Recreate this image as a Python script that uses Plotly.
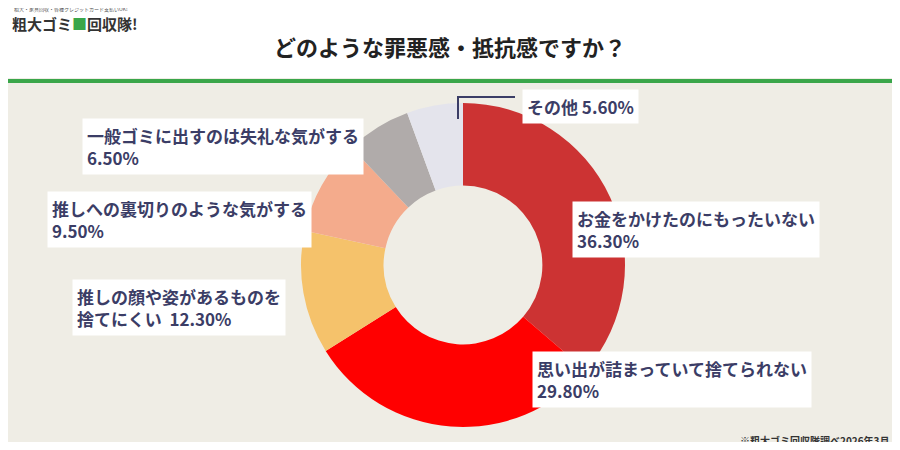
import plotly.graph_objects as go

labels = ["お金をかけたのにもったいない", "思い出が詰まっていて捨てられない",
          "推しの顔や姿があるものを捨てにくい", "推しへの裏切りのような気がする",
          "一般ゴミに出すのは失礼な気がする", "その他"]
values = [36.3, 29.8, 12.3, 9.5, 6.5, 5.6]
colors = ["#cc3333", "#ff0000", "#f5c26b", "#f4ab8c", "#b0abaa", "#e4e4ec"]

FONT = "Noto Sans CJK JP"
NAVY = "#3b3d66"

# page has an 8px body margin, so the figure is 884x434 placed at (8, 8)
W, H, OFF = 884, 434, 8


def fx(x):
    return (x - OFF) / W


def fy(y):
    return 1 - (y - OFF) / H


fig = go.Figure(go.Pie(
    labels=labels, values=values, hole=0.49, sort=False, direction="clockwise",
    rotation=0, marker=dict(colors=colors, line=dict(width=0)),
    textinfo="none", showlegend=False,
    domain=dict(x=[fx(301), fx(625)], y=[fy(427), fy(103)]),
))

boxes = [
    ("その他 5.60%", 522, 89),
    ("一般ゴミに出すのは失礼な気がする<br>6.50%", 82, 118),
    ("推しへの裏切りのような気がする<br>9.50%", 47, 191),
    ("推しの顔や姿があるものを<br>捨てにくい  12.30%", 72, 279),
    ("お金をかけたのにもったいない<br>36.30%", 572, 201),
    ("思い出が詰まっていて捨てられない<br>29.80%", 532, 351),
]
for txt, px, py in boxes:
    fig.add_annotation(
        text=txt, x=fx(px), y=fy(py), xref="paper", yref="paper",
        xanchor="left", yanchor="top", align="left", showarrow=False,
        bgcolor="white", borderpad=4,
        font=dict(family=FONT, size=17, color=NAVY, weight="bold"),
    )

shapes = [
    dict(type="rect", xref="paper", yref="paper", x0=-0.02, x1=1.02, y0=fy(78), y1=1.05,
         fillcolor="white", line=dict(width=0), layer="below"),
    dict(type="rect", xref="paper", yref="paper", x0=-0.02, x1=1.02,
         y0=fy(83), y1=fy(79), fillcolor="#3aa64a", line=dict(width=0)),
    dict(type="path", xref="paper", yref="paper",
         path=f"M {fx(458)},{fy(119)} L {fx(458)},{fy(97)} L {fx(515)},{fy(97)}",
         line=dict(color=NAVY, width=2)),
]

fig.add_annotation(text="どのような罪悪感・抵抗感ですか？", x=fx(450), y=fy(46),
                   xref="paper", yref="paper", showarrow=False, yanchor="middle",
                   font=dict(family=FONT, size=22, color="#222222", weight="bold"))
fig.add_annotation(text="粗大ゴミ<span style='color:#3aa64a'>■</span>回収隊!", x=fx(10),
                   y=fy(24), xref="paper", yref="paper", xanchor="left", yanchor="middle",
                   showarrow=False,
                   font=dict(family=FONT, size=15, color="#333333", weight="bold"))
fig.add_annotation(text="粗大・家具回収・各種クレジットカード支払いOK!", x=fx(12),
                   y=fy(9), xref="paper", yref="paper", xanchor="left", yanchor="middle",
                   showarrow=False, font=dict(family=FONT, size=5, color="#555555"))
fig.add_annotation(text="※粗大ゴミ回収隊調べ2026年3月", x=fx(892), y=fy(440),
                   xref="paper", yref="paper", xanchor="right", yanchor="middle",
                   showarrow=False,
                   font=dict(family=FONT, size=10, color="#333333", weight="bold"))

fig.update_layout(
    width=W, height=H, margin=dict(l=0, r=0, t=0, b=0),
    paper_bgcolor="#efede5", shapes=shapes,
)

fig.write_html("out.html", config={"displayModeBar": False})
